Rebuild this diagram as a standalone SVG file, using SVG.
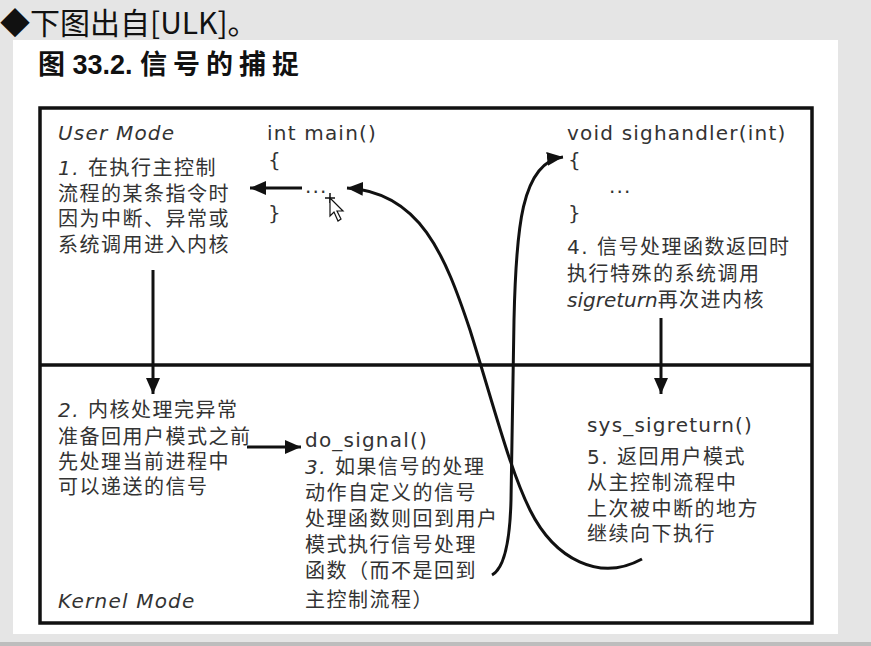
<svg xmlns="http://www.w3.org/2000/svg" width="871" height="646" viewBox="0 0 871 646">
<style>
.t{font-family:"DejaVu Sans","Noto Sans CJK SC",sans-serif;font-size:20px;letter-spacing:1.2px;fill:#333}
.c{font-family:"DejaVu Sans","Noto Sans CJK SC",sans-serif;font-size:20px;letter-spacing:1.5px;fill:#333}
.i{font-style:italic}
.ln{fill:none;stroke:#111;stroke-width:3}
</style>
<defs>
<marker id="ah" markerUnits="userSpaceOnUse" markerWidth="18" markerHeight="16" refX="16" refY="7" orient="auto">
<path d="M0,0 L16,7 L0,14 Z" fill="#111"/>
</marker>
</defs>
<rect width="871" height="646" fill="#e5e5e5"/>
<rect x="13" y="40" width="825" height="594" fill="#fff"/>
<rect x="0" y="642" width="871" height="4" fill="#bdbdbd"/>
<text x="0" y="34" font-family="'Noto Sans CJK SC',sans-serif" font-size="30" fill="#111">◆下图出自[ULK]。</text>
<text x="38" y="74" font-family="'Liberation Sans','Noto Sans CJK SC',sans-serif" font-size="27" font-weight="bold" fill="#111">图 33.2. <tspan letter-spacing="6">信号的捕捉</tspan></text>

<g id="frame">
<rect x="40" y="108" width="772" height="515" fill="none" stroke="#111" stroke-width="3.5"/>
<line x1="40" y1="365" x2="812" y2="365" stroke="#111" stroke-width="3.5"/>
</g>

<g id="user-mode-label"><text class="t i" x="58" y="140">User Mode</text></g>
<g id="kernel-mode-label"><text class="t i" x="58" y="608">Kernel Mode</text></g>

<g id="step1">
<text class="c" x="58" y="175"><tspan class="i">1.</tspan> 在执行主控制</text>
<text class="c" x="58" y="201">流程的某条指令时</text>
<text class="c" x="58" y="226">因为中断、异常或</text>
<text class="c" x="58" y="252">系统调用进入内核</text>
</g>

<g id="main">
<text class="t" x="267" y="140">int main()</text>
<text class="t" x="268" y="167">{</text>
<text class="t" x="305" y="193" fill="#888">...</text>
<text class="t" x="268" y="220">}</text>
</g>

<g id="sighandler">
<text class="t" x="567" y="140">void sighandler(int)</text>
<text class="t" x="568" y="167">{</text>
<text class="t" x="609" y="193">...</text>
<text class="t" x="568" y="220">}</text>
</g>

<g id="step4">
<text class="c" x="567" y="254">4. 信号处理函数返回时</text>
<text class="c" x="567" y="281">执行特殊的系统调用</text>
<text class="c" x="567" y="307"><tspan class="i" letter-spacing="0">sigreturn</tspan>再次进内核</text>
</g>

<g id="step2">
<text class="c" x="58" y="417"><tspan class="i">2.</tspan> 内核处理完异常</text>
<text class="c" x="58" y="444">准备回用户模式之前</text>
<text class="c" x="58" y="469">先处理当前进程中</text>
<text class="c" x="58" y="494">可以递送的信号</text>
</g>

<g id="do-signal">
<text class="t" x="305" y="447">do_signal()</text>
<text class="c" x="305" y="474"><tspan class="i">3.</tspan> 如果信号的处理</text>
<text class="c" x="305" y="500">动作自定义的信号</text>
<text class="c" x="305" y="526">处理函数则回到用户</text>
<text class="c" x="305" y="552">模式执行信号处理</text>
<text class="c" x="305" y="578">函数（而不是回到</text>
<text class="c" x="305" y="607">主控制流程）</text>
</g>

<g id="sys-sigreturn">
<text class="t" x="587" y="432">sys_sigreturn()</text>
<text class="c" x="587" y="464">5. 返回用户模式</text>
<text class="c" x="587" y="490">从主控制流程中</text>
<text class="c" x="587" y="516">上次被中断的地方</text>
<text class="c" x="587" y="541">继续向下执行</text>
</g>

<g id="connectors">
<line class="ln" x1="302" y1="188" x2="250" y2="188" marker-end="url(#ah)"/>
<line class="ln" x1="153" y1="270" x2="153" y2="394" marker-end="url(#ah)"/>
<line class="ln" x1="247" y1="447" x2="301" y2="447" marker-end="url(#ah)"/>
<line class="ln" x1="661" y1="318" x2="661" y2="394" marker-end="url(#ah)"/>
<path class="ln" d="M642,559 C600,582 555,560 530,510 C510,470 495,410 470,330 C445,255 420,192 347,188" marker-end="url(#ah)"/>
<path class="ln" d="M492,575 C505,568 510,540 511,500 L514,320 C516,230 521,162 563,157" marker-end="url(#ah)"/>
</g>

<g id="cursor">
<path d="M330,193 V203 M325,198 H335" stroke="#111" stroke-width="1.5" fill="none"/>
<path d="M330,198 L330,216 L334,212 L338,221 L341,219 L337,211 L343,211 Z" fill="#fff" stroke="#111" stroke-width="1.2"/>
</g>
</svg>
